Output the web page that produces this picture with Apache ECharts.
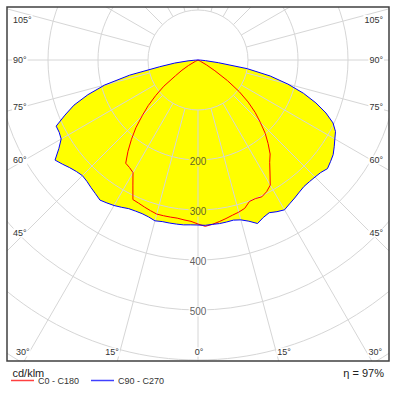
<!DOCTYPE html>
<html><head><meta charset="utf-8">
<script src="https://cdn.jsdelivr.net/npm/echarts@6/dist/echarts.min.js"></script>
<style>html,body{margin:0;padding:0;background:#fff}#c{width:399px;height:395px}</style>
</head><body><div id="c"></div>
<script>
// gamma angles (deg from nadir)
const angles = [0,2.5,5,7.5,10,12.5,15,17.5,20,22.5,25,27.5,30,32.5,35,37.5,40,42.5,45,47.5,50,52.5,55,57.5,60,62.5,65,67.5,70,72.5,75,77.5,80,82.5,85,87.5,90];
// cd/klm
const c0   = [328,333,330,326,322,318,315,311,301,300,302,297,289,268,250,237,218,199,176,155,131,104,72,40,20,5,0,0,0,0,0,0,0,0,0,0,0];
const c180 = [328,323,321,319,319,319,319,316,313,310,308,282,260,255,252,230,207,184,158,135,110,86,55,38,22,6,0,0,0,0,0,0,0,0,0,0,0];
const c90  = [330,331,330,330,329,328,331,338,348,341,337,342,346,341,337,333,330,330,331,333,338,334,330,323,316,310,298,277,251,221,186,148,100,41,15,5,0];
const c270 = [330,330,331,331,331,331,333,329,327,327,328,332,336,339,342,337,333,329,327,330,335,342,349,330,316,313,313,288,264,231,193,140,78,47,20,5,0];
const radiusTicks = [200,300,400,500];
const gridAngles = [0,15,30,45,60,75,90,105,120,135,150,165,180,195,210,225,240,255,270,285,300,315,330,345];
const sideLabels = ['105°','90°','75°','60°','45°'];
const bottomLabels = ['30°','15°','0°','15°','30°'];
const seriesNames = ['C0 - C180','C90 - C270'];
const unitText = 'cd/klm';
const effText = 'η = 97%';

function curve(left, right){
  const pts = [];
  for (let i = angles.length - 1; i >= 0; i--) pts.push([left[i], 360 - angles[i]]);
  for (let i = 1; i < angles.length; i++) pts.push([right[i], angles[i]]);
  return pts;
}
const redData = curve(c180, c0);
const blueData = curve(c270, c90);

const FONT = '"Liberation Sans", Arial, sans-serif';
const chart = echarts.init(document.getElementById('c'), null, {renderer:'svg'});

const series = [];
series.push({type:'line', coordinateSystem:'polar', data:blueData, symbol:'none', silent:true,
  lineStyle:{width:0}, areaStyle:{color:'#ffff00', opacity:1}, z:1});
gridAngles.forEach(a => series.push({type:'line', coordinateSystem:'polar', silent:true, symbol:'none',
  data:[[100,a],[800,a]], lineStyle:{color:'#d6d6d6', width:1}, z:2}));
series.push({name:seriesNames[0], type:'line', coordinateSystem:'polar', data:redData, symbol:'none',
  lineStyle:{color:'#ff0000', width:1}, itemStyle:{color:'#ff4040'}, z:3});
series.push({name:seriesNames[1], type:'line', coordinateSystem:'polar', data:blueData, symbol:'none',
  lineStyle:{color:'#0000ff', width:1}, itemStyle:{color:'#4040ff'}, z:3});
series.push({type:'scatter', coordinateSystem:'polar', symbolSize:0, silent:true, z:4,
  data: radiusTicks.map(r => ({value:[r,0], label:{backgroundColor: r < c90[0] ? '#ffff00' : '#ffffff'}})),
  label:{show:true, position:'inside', offset:[0,1.5], formatter:p => String(p.value[0]), fontSize:10, fontFamily:FONT, color:'#333', padding:[0,1]}});

const g = [];
const mask = {fill:'#ffffff'};
g.push({type:'rect', shape:{x:0,y:0,width:399,height:7}, style:mask, z:5, silent:true});
g.push({type:'rect', shape:{x:0,y:0,width:7,height:395}, style:mask, z:5, silent:true});
g.push({type:'rect', shape:{x:389,y:0,width:10,height:395}, style:mask, z:5, silent:true});
g.push({type:'rect', shape:{x:0,y:361,width:399,height:34}, style:mask, z:5, silent:true});
g.push({type:'rect', shape:{x:7,y:7,width:382,height:354}, style:{fill:'none', stroke:'#404040', lineWidth:1.5}, z:6, silent:true});
const sideY = [19.5, 60, 106.5, 160, 233];
sideLabels.forEach((t,i) => {
  g.push({type:'text', z:6, silent:true, style:{text:t, x:12, y:sideY[i], align:'left', verticalAlign:'middle', font:'9px '+FONT, fill:'#333', backgroundColor:'#fff', padding:[0,1]}});
  g.push({type:'text', z:6, silent:true, style:{text:t, x:384, y:sideY[i], align:'right', verticalAlign:'middle', font:'9px '+FONT, fill:'#333', backgroundColor:'#fff', padding:[0,1]}});
});
const bx = [15, 112, 199, 284, 383];
const ba = ['left','center','center','center','right'];
bottomLabels.forEach((t,i) => g.push({type:'text', z:6, silent:true, style:{text:t, x:bx[i], y:352, align:ba[i], verticalAlign:'middle', font:'9px '+FONT, fill:'#333', backgroundColor:'#fff', padding:[0,1]}}));
g.push({type:'text', z:7, silent:true, style:{text:unitText, x:12.5, y:373, align:'left', verticalAlign:'middle', font:'11px '+FONT, fill:'#222'}});
g.push({type:'text', z:7, silent:true, style:{text:effText, x:384, y:373, align:'right', verticalAlign:'middle', font:'11px '+FONT, fill:'#222'}});

chart.setOption({
  animation:false,
  polar:{center:[198,60], radius:400},
  angleAxis:{type:'value', min:0, max:360, interval:15, startAngle:-90, clockwise:false,
    axisLine:{show:false}, axisTick:{show:false}, axisLabel:{show:false}, splitLine:{show:false}},
  radiusAxis:{type:'value', min:0, max:800, interval:100, z:2,
    axisLine:{show:false}, axisTick:{show:false}, axisLabel:{show:false},
    splitLine:{show:true, lineStyle:{color:'#d6d6d6', width:1}}},
  legend:{data:seriesNames, left:11, top:376, padding:0, icon:'rect', itemWidth:23, itemHeight:1.5, itemGap:12, z:10,
    textStyle:{fontSize:9, fontFamily:FONT, color:'#333', padding:[0,0,0,-1]}},
  series:series,
  graphic:g
});
</script></body></html>
